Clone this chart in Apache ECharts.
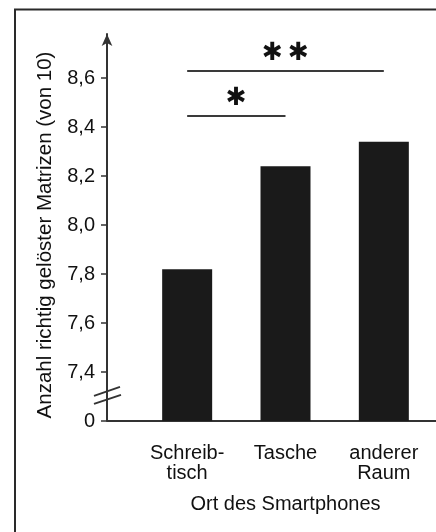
<!DOCTYPE html>
<html>
<head>
<meta charset="utf-8">
<script src="https://cdn.jsdelivr.net/npm/echarts@6/dist/echarts.min.js"></script>
<style>
html,body{margin:0;padding:0;background:#fff;}
#c{width:436px;height:532px;}
</style>
</head>
<body>
<div id="c"></div>
<script>
// ---- data ----
const categories = ['Schreib-\ntisch', 'Tasche', 'anderer\nRaum'];
const values = [7.82, 8.24, 8.34];
const tickValues = [7.2, 7.4, 7.6, 7.8, 8.0, 8.2, 8.4, 8.6];
const sigOne = { from: 0, to: 1, y: 8.446, label: '✱' };
const sigTwo = { from: 0, to: 2, y: 8.629, label: '✱\u2009✱' };
const yName = 'Anzahl richtig gelöster Matrizen (von 10)';
const xName = 'Ort des Smartphones';

// ---- layout ----
const FONT = 'Liberation Sans, Arial, Helvetica, sans-serif';
const GRID = { left: 138, right: 3, top: 34, bottom: 111 };
const Y_OFFSET = 31;
const INK = '#111';
const LINE = '#333';

const chart = echarts.init(document.getElementById('c'), null, { renderer: 'canvas' });

function fmt(v) {
  if (Math.abs(v - tickValues[0]) < 1e-6) return '0';
  return v.toFixed(1).replace('.', ',');
}

function sigLine(s) {
  return [
    { coord: [categories[s.from], s.y], label: { formatter: s.label } },
    { coord: [categories[s.to], s.y] }
  ];
}

chart.setOption({
  animation: false,
  grid: GRID,
  xAxis: {
    type: 'category',
    data: categories,
    axisLine: { show: true, lineStyle: { color: LINE, width: 2 } },
    axisTick: { show: false },
    axisLabel: { color: INK, fontSize: 20, lineHeight: 20, fontFamily: FONT, margin: 22 },
    name: xName,
    nameLocation: 'middle',
    nameGap: 73,
    nameTextStyle: { color: INK, fontSize: 20, fontFamily: FONT }
  },
  yAxis: {
    type: 'value',
    min: 7.2,
    max: 8.78,
    interval: 0.2,
    offset: Y_OFFSET,
    splitLine: { show: false },
    axisLine: { show: true, symbol: ['none', 'arrow'], symbolSize: [8, 12], lineStyle: { color: LINE, width: 2 } },
    axisTick: { show: true, length: 6, customValues: tickValues, lineStyle: { color: LINE, width: 1.5 } },
    axisLabel: { customValues: tickValues, formatter: fmt, color: INK, fontSize: 20, fontFamily: FONT, margin: 12 },
    name: yName,
    nameLocation: 'middle',
    nameGap: 50,
    nameRotate: 90,
    nameTextStyle: { color: INK, fontSize: 20.5, fontFamily: FONT, padding: [0, 15, 0, 0] }
  },
  series: [{
    type: 'bar',
    data: values,
    barWidth: 50,
    itemStyle: { color: '#1a1a1a' },
    markLine: {
      silent: true,
      symbol: 'none',
      lineStyle: { color: '#3a3a3a', width: 2, type: 'solid' },
      label: { show: true, position: 'middle', color: INK, fontSize: 25, fontFamily: 'DejaVu Sans', distance: 5 },
      data: [sigLine(sigOne), sigLine(sigTwo)]
    }
  }]
});

// decorations: frame, axis extension, axis break marks
const yBase = chart.convertToPixel({ yAxisIndex: 0 }, 7.2);
const yBreak = chart.convertToPixel({ yAxisIndex: 0 }, 7.305);
const axisX = GRID.left - Y_OFFSET;
chart.setOption({
  graphic: [
    { type: 'rect', shape: { x: 15, y: 9.5, width: 480, height: 560 }, style: { fill: 'none', stroke: '#2a2a2a', lineWidth: 2 }, silent: true },
    { type: 'line', shape: { x1: axisX, y1: yBase, x2: 436, y2: yBase }, style: { stroke: LINE, lineWidth: 2 }, silent: true },
    { type: 'line', shape: { x1: axisX - 13, y1: yBreak + 0.5, x2: axisX + 13, y2: yBreak - 8.5 }, style: { stroke: LINE, lineWidth: 1.8 }, silent: true },
    { type: 'line', shape: { x1: axisX - 13, y1: yBreak + 8.5, x2: axisX + 14, y2: yBreak - 0.5 }, style: { stroke: LINE, lineWidth: 1.8 }, silent: true }
  ]
});
</script>
</body>
</html>
